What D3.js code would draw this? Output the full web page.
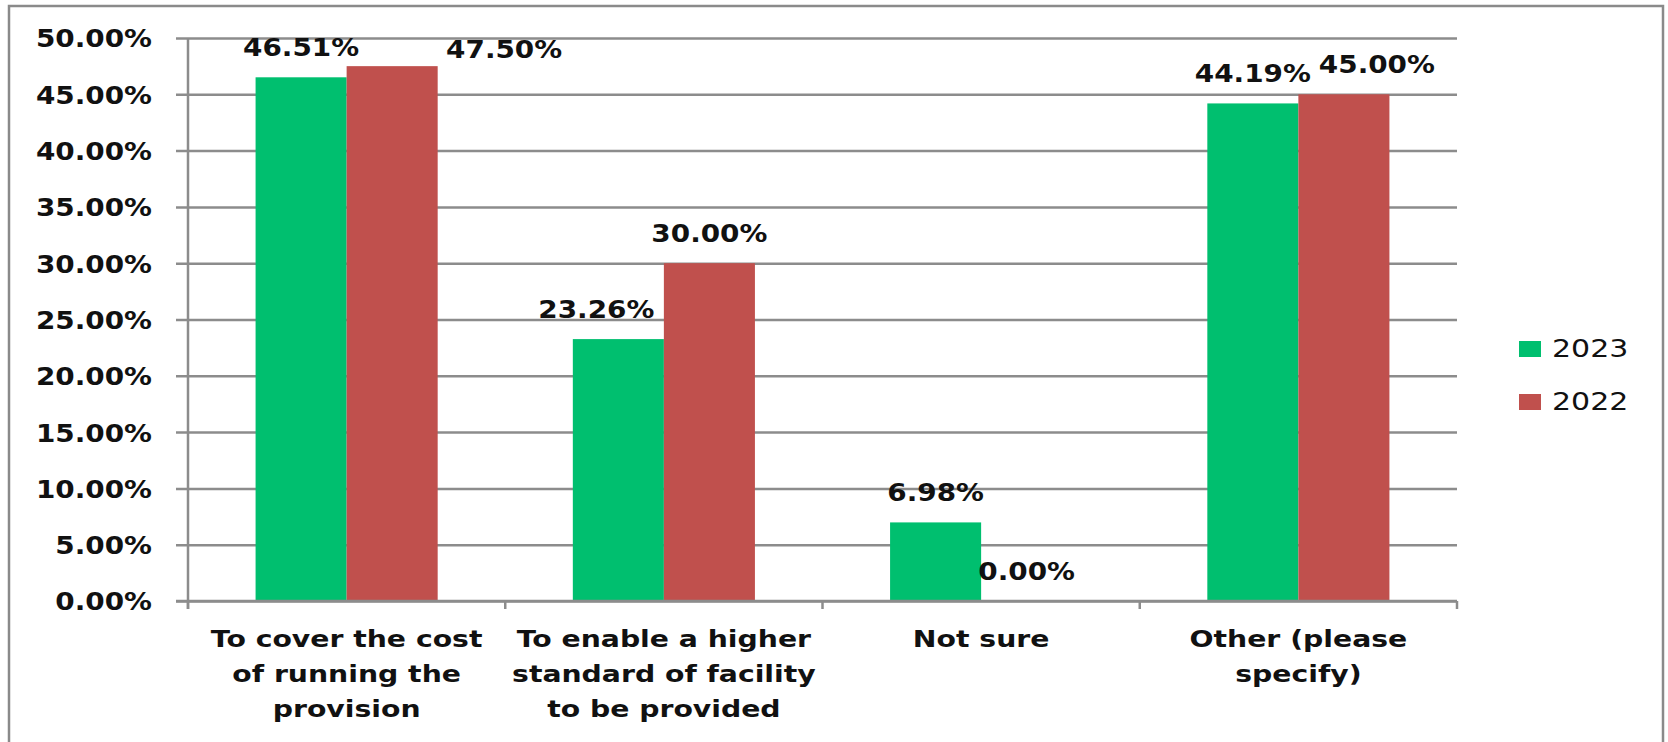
<!DOCTYPE html>
<html>
<head>
<meta charset="utf-8">
<script src="https://cdn.jsdelivr.net/npm/d3@7"></script>
<style>
	html, body { margin: 0; padding: 0; background: #fff; }
	svg { display: block; }
	text { font-family: "DejaVu Sans", Verdana, sans-serif; fill: #111; }
</style>
</head>
<body>
<div id="chart"></div>
<script>
// data
const categories = [
	'To cover the cost\nof running the\nprovision',
	'To enable a higher\nstandard of facility\nto be provided',
	'Not sure',
	'Other (please\nspecify)'
];
const seriesNames = ['2023', '2022'];
const values2023 = [0.4651, 0.2326, 0.0698, 0.4419];
const values2022 = [0.4750, 0.3000, 0.0000, 0.4500];
const yTicks = [0, 0.05, 0.10, 0.15, 0.20, 0.25, 0.30, 0.35, 0.40, 0.45, 0.50];

// label nudges (Excel moved a few labels away from their bars)
const labelNudge = {
	'2023': [[0, 0], [-22, 0], [0, 0], [0, 0]],
	'2022': [[112, 13], [0, 0], [0, 0], [33, 0]]
};

const options = {
	w: 1668,
	h: 742,
	left: 188,
	right: 1457,
	top: 38,
	bottom: 601,
	colors: ['#00bf6f', '#c0504d'],
	gridColor: '#8c8c8c',
	stretch: 1.115,
	catStretch: 1.23
};

const series = seriesNames.map((name, i) => ({
	name,
	values: i === 0 ? values2023 : values2022
}));

const svg = d3.select('#chart')
	.append('svg')
	.attr('width', options.w)
	.attr('height', options.h)
	.attr('viewBox', `0 0 ${options.w} ${options.h}`);

svg.append('rect')
	.attr('width', options.w)
	.attr('height', options.h)
	.attr('fill', '#fff');

// outer frame
svg.append('rect')
	.attr('x', 9)
	.attr('y', 6)
	.attr('width', 1654)
	.attr('height', 800)
	.attr('fill', 'none')
	.attr('stroke', '#8a8a8a')
	.attr('stroke-width', 2.5);

const y = d3.scaleLinear()
	.domain([0, 0.5])
	.range([options.bottom, options.top]);

const x0 = d3.scaleBand()
	.domain(d3.range(categories.length))
	.range([options.left, options.right])
	.paddingInner(0.426)
	.paddingOuter(0.213);

const x1 = d3.scaleBand()
	.domain(seriesNames)
	.range([0, x0.bandwidth()]);

const color = d3.scaleOrdinal().domain(seriesNames).range(options.colors);
const pct = d3.format('.2%');

// gridlines
const grid = svg.append('g')
	.attr('transform', `translate(${options.left - 12},0)`)
	.call(d3.axisLeft(y).tickValues(yTicks).tickSize(-(options.right - options.left + 12)).tickFormat(''));
grid.select('.domain').remove();
grid.selectAll('line')
	.attr('stroke', options.gridColor)
	.attr('stroke-width', 2.5);

// y labels
const yAxis = svg.append('g')
	.attr('transform', `translate(${options.left},0)`)
	.call(d3.axisLeft(y).tickValues(yTicks).tickSize(0).tickFormat(pct));
yAxis.select('.domain').remove();
yAxis.selectAll('text')
	.attr('x', 0)
	.attr('dy', null)
	.attr('dominant-baseline', 'central')
	.attr('transform', `translate(-36,0) scale(${options.stretch},1)`)
	.style('font-size', '25px')
	.style('font-weight', 'bold')
	.style('font-family', '"DejaVu Sans", Verdana, sans-serif')
	.attr('fill', '#111');

// bars
const groups = svg.append('g')
	.selectAll('g')
	.data(series)
	.join('g')
	.attr('fill', d => color(d.name));

groups.selectAll('rect')
	.data(d => d.values.map((v, i) => ({ name: d.name, v, i })))
	.join('rect')
	.attr('x', d => x0(d.i) + x1(d.name))
	.attr('y', d => y(d.v))
	.attr('width', x1.bandwidth())
	.attr('height', d => y(0) - y(d.v));

// axes lines
svg.append('line')
	.attr('x1', options.left).attr('x2', options.left)
	.attr('y1', options.top).attr('y2', options.bottom + 8)
	.attr('stroke', options.gridColor).attr('stroke-width', 2.5);
svg.append('line')
	.attr('x1', options.left - 12).attr('x2', options.right)
	.attr('y1', options.bottom).attr('y2', options.bottom)
	.attr('stroke', options.gridColor).attr('stroke-width', 2.5);

// category boundary ticks
svg.append('g')
	.selectAll('line')
	.data(d3.range(categories.length + 1))
	.join('line')
	.attr('x1', i => options.left + i * x0.step())
	.attr('x2', i => options.left + i * x0.step())
	.attr('y1', options.bottom)
	.attr('y2', options.bottom + 8)
	.attr('stroke', options.gridColor)
	.attr('stroke-width', 2.5);

// category labels
const catLabels = svg.append('g')
	.selectAll('text')
	.data(categories)
	.join('text')
	.attr('text-anchor', 'middle')
	.attr('transform', (d, i) => `translate(${x0(i) + x0.bandwidth() / 2},${options.bottom + 46}) scale(${options.catStretch},1)`)
	.style('font-size', '23px')
	.style('font-weight', 'bold');

catLabels.selectAll('tspan')
	.data(d => d.split('\n'))
	.join('tspan')
	.attr('x', 0)
	.attr('dy', (d, i) => i === 0 ? 0 : 35)
	.text(d => d);

// value labels
groups.selectAll('text')
	.data(d => d.values.map((v, i) => ({ name: d.name, v, i })))
	.join('text')
	.attr('text-anchor', 'middle')
	.attr('fill', '#111')
	.style('font-size', '25px')
	.style('font-weight', 'bold')
	.attr('transform', d => {
		const nudge = labelNudge[d.name][d.i];
		const cx = x0(d.i) + x1(d.name) + x1.bandwidth() / 2 + nudge[0];
		const cy = y(d.v) - 21 + nudge[1];
		return `translate(${cx},${cy}) scale(${options.stretch},1)`;
	})
	.text(d => pct(d.v));

// legend
const legend = svg.append('g')
	.attr('transform', 'translate(1519,341)')
	.selectAll('g')
	.data(seriesNames)
	.join('g')
	.attr('transform', (d, i) => `translate(0,${i * 53})`);

legend.append('rect')
	.attr('width', 22)
	.attr('height', 16)
	.attr('fill', d => color(d));

legend.append('text')
	.attr('transform', `translate(33,16) scale(1.2,1)`)
	.style('font-size', '25px')
	.attr('fill', '#222')
	.text(d => d);
</script>
</body>
</html>
